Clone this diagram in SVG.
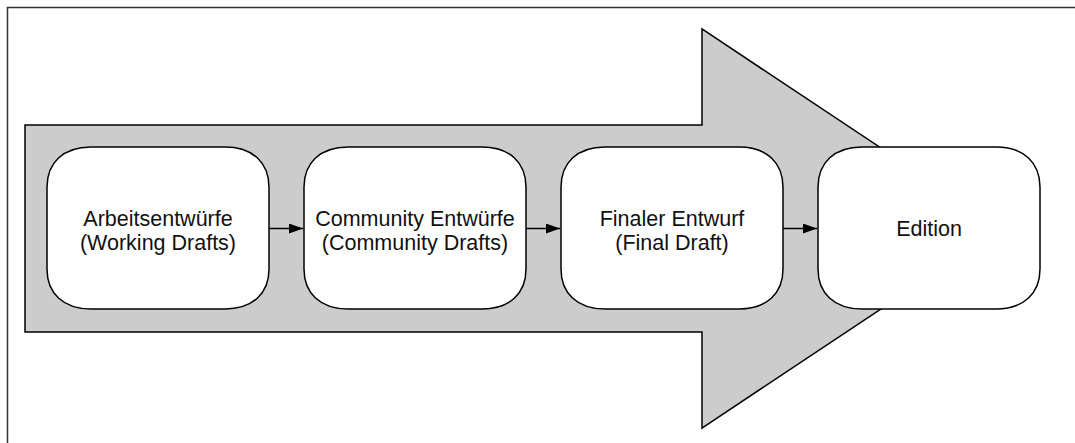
<svg xmlns="http://www.w3.org/2000/svg" width="1075" height="443" viewBox="0 0 1075 443">
  <defs>
    <marker id="head" viewBox="0 0 14 10" refX="14" refY="5" markerWidth="14" markerHeight="10" markerUnits="userSpaceOnUse" orient="auto">
      <path d="M0,0 L14,5 L0,10 Z" fill="#000"/>
    </marker>
    <style>
      .frame { fill: none; stroke: #333; stroke-width: 1.5; }
      .flow { fill: #cccccc; stroke: #000; stroke-width: 1.5; stroke-linejoin: miter; }
      .box { fill: #fff; stroke: #000; stroke-width: 1.5; }
      .label { font-family: "Liberation Sans", Arial, Helvetica, sans-serif; font-size: 21.5px; fill: #111; text-anchor: middle; }
      .link { stroke: #000; stroke-width: 1.5; fill: none; marker-end: url(#head); }
    </style>
  </defs>

  <!-- outer frame -->
  <rect class="frame" x="7.5" y="7.5" width="1100" height="500"/>

  <!-- big background arrow -->
  <path class="flow" d="M25,125 L702,125 L702,29 L1002,228.5 L702,428 L702,332 L25,332 Z"/>

  <!-- connectors -->
  <g id="connectors">
    <line class="link" x1="269" y1="228.5" x2="303" y2="228.5"/>
    <line class="link" x1="526" y1="228.5" x2="560" y2="228.5"/>
    <line class="link" x1="783" y1="228.5" x2="817" y2="228.5"/>
  </g>

  <g id="working-drafts">
    <path class="box" d="M47,187 C47,163 63,147 91,147 L225,147 C253,147 269,163 269,187 L269,269 C269,293 253,309 225,309 L91,309 C63,309 47,293 47,269 Z"/>
    <text class="label" x="158" y="226">Arbeitsentwürfe</text>
    <text class="label" x="158" y="250">(Working Drafts)</text>
  </g>

  <g id="community-drafts">
    <path class="box" d="M304,187 C304,163 320,147 348,147 L482,147 C510,147 526,163 526,187 L526,269 C526,293 510,309 482,309 L348,309 C320,309 304,293 304,269 Z"/>
    <text class="label" x="415" y="226">Community Entwürfe</text>
    <text class="label" x="415" y="250">(Community Drafts)</text>
  </g>

  <g id="final-draft">
    <path class="box" d="M561,187 C561,163 577,147 605,147 L739,147 C767,147 783,163 783,187 L783,269 C783,293 767,309 739,309 L605,309 C577,309 561,293 561,269 Z"/>
    <text class="label" x="672" y="226">Finaler Entwurf</text>
    <text class="label" x="672" y="250">(Final Draft)</text>
  </g>

  <g id="edition">
    <path class="box" d="M818,187 C818,163 834,147 862,147 L996,147 C1024,147 1040,163 1040,187 L1040,269 C1040,293 1024,309 996,309 L862,309 C834,309 818,293 818,269 Z"/>
    <text class="label" x="929" y="236">Edition</text>
  </g>
</svg>
